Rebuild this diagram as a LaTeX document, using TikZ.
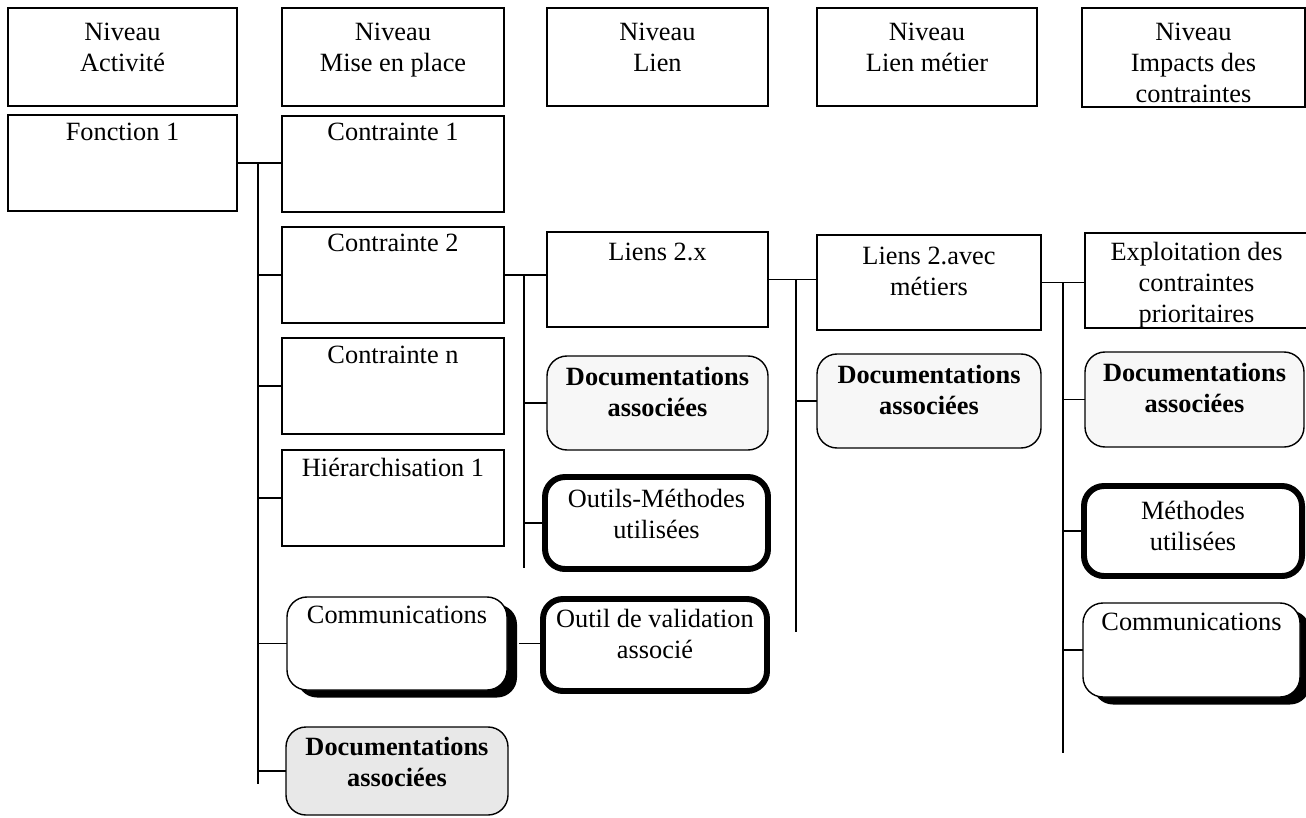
\documentclass[tikz,border=0pt]{standalone}
\usepackage{fontspec}
\setmainfont{Liberation Serif}
\usetikzlibrary{shadows}
\newcommand\mkbox[8]{%
  \pgfmathsetmacro\mybw{(#5-#3)*0.02}%
  \pgfmathsetmacro\mybh{(#6-#4)*0.02}%
  \node[#2, anchor=north west, minimum width=\mybw cm, minimum height=\mybh cm] (#1) at (#3,#4) {};
  \node[txt, anchor=north] (#1t) at ([yshift=-#8*0.02cm]#1.north) {#7};
}
\begin{document}
\begin{tikzpicture}[x=0.02cm,y=-0.02cm,
  box/.style={draw, line width=0.8pt, inner sep=0pt, outer sep=0pt, fill=white},
  rbox/.style={box, rounded corners=0.4cm},
  docbox/.style={rbox, fill=black!3},
  docgray/.style={rbox, fill=black!9},
  thickbox/.style={rbox, line width=3.4pt},
  shadbox/.style={rbox, drop shadow={shadow xshift=0.2cm, shadow yshift=-0.15cm, fill=black, opacity=1}},
  txt/.style={inner sep=0pt, align=center, font=\fontsize{15}{17.6}\selectfont},
  conn/.style={line width=0.8pt}]
\useasboundingbox (0,0) rectangle (1306,818);
% headers
\mkbox{h1}{box}{8}{8}{237}{106}{Niveau\\Activité}{15}
\mkbox{h2}{box}{282}{8}{504}{106}{Niveau\\Mise en place}{15}
\mkbox{h3}{box}{547}{8}{768}{106}{Niveau\\Lien}{15}
\mkbox{h4}{box}{817}{8}{1037}{106}{Niveau\\Lien métier}{15}
\mkbox{h5}{box}{1082}{8}{1305}{107}{Niveau\\Impacts des\\contraintes}{15}
% column 1-2
\mkbox{f1}{box}{8}{115}{237}{211}{Fonction 1}{8}
\mkbox{c1}{box}{282}{116}{504}{212}{Contrainte 1}{7}
\mkbox{c2}{box}{282}{227}{504}{323}{Contrainte 2}{7}
\mkbox{cn}{box}{282}{338}{504}{434}{Contrainte n}{8}
\mkbox{hi}{box}{282}{450}{504}{546}{Hiérarchisation 1}{8}
\mkbox{com1}{shadbox}{287}{597}{507}{690}{Communications}{9}
\mkbox{doc1}{docgray}{286}{727}{508}{815}{\bfseries Documentations\\\bfseries associées}{10}
% column 3
\mkbox{l2x}{box}{547}{232}{768}{327}{Liens 2.x}{11}
\mkbox{doc3}{docbox}{547}{356}{768}{450}{\bfseries Documentations\\\bfseries associées}{11}
\mkbox{om}{thickbox}{545}{477}{768}{569}{Outils-Méthodes\\utilisées}{12}
\mkbox{outil}{thickbox}{543}{599}{767}{691}{Outil de validation\\associé}{10}
% column 4
\mkbox{lam}{box}{817}{235}{1041}{330}{Liens 2.avec\\métiers}{12}
\mkbox{doc4}{docbox}{817}{354}{1041}{448}{\bfseries Documentations\\\bfseries associées}{11}
% column 5
\mkbox{exp}{box}{1085}{233}{1308}{328}{Exploitation des\\contraintes\\prioritaires}{9}
\mkbox{doc5}{docbox}{1085}{352}{1304}{447}{\bfseries Documentations\\\bfseries associées}{11}
\mkbox{meth5}{thickbox}{1084}{486}{1302}{576}{Méthodes\\utilisées}{15}
\mkbox{com5}{shadbox}{1083}{603}{1300}{697}{Communications}{10}
% trunk coordinates
\coordinate (tA) at (258,0);
\coordinate (tAend) at (258,784);
\coordinate (tB) at (524,0);
\coordinate (tBend) at (524,568);
\coordinate (tC) at (796,0);
\coordinate (tCend) at (796,632);
\coordinate (tD) at (1063,0);
\coordinate (tDend) at (1063,753);
% connectors A
\draw[conn] (f1.east) -- (f1.east -| c1.west);
\draw[conn] (f1.east -| tA) -- (tAend);
\foreach \n in {c2,cn,hi,com1,doc1} \draw[conn] (\n.west -| tA) -- (\n.west);
% connectors B
\draw[conn] (c2.east) -- (c2.east -| l2x.west);
\draw[conn] (c2.east -| tB) -- (tBend);
\foreach \n in {doc3,om} \draw[conn] (\n.west -| tB) -- (\n.west);
\draw[conn] ([xshift=0.24cm]com1.east) -- (com1.east -| outil.west);
% connectors C
\draw[conn] (l2x.east) -- (l2x.east -| lam.west);
\draw[conn] (l2x.east -| tC) -- (tCend);
\draw[conn] (doc4.west -| tC) -- (doc4.west);
% connectors D
\draw[conn] (lam.east) -- (lam.east -| exp.west);
\draw[conn] (lam.east -| tD) -- (tDend);
\foreach \n in {doc5,meth5,com5} \draw[conn] (\n.west -| tD) -- (\n.west);
\end{tikzpicture}
\end{document}
